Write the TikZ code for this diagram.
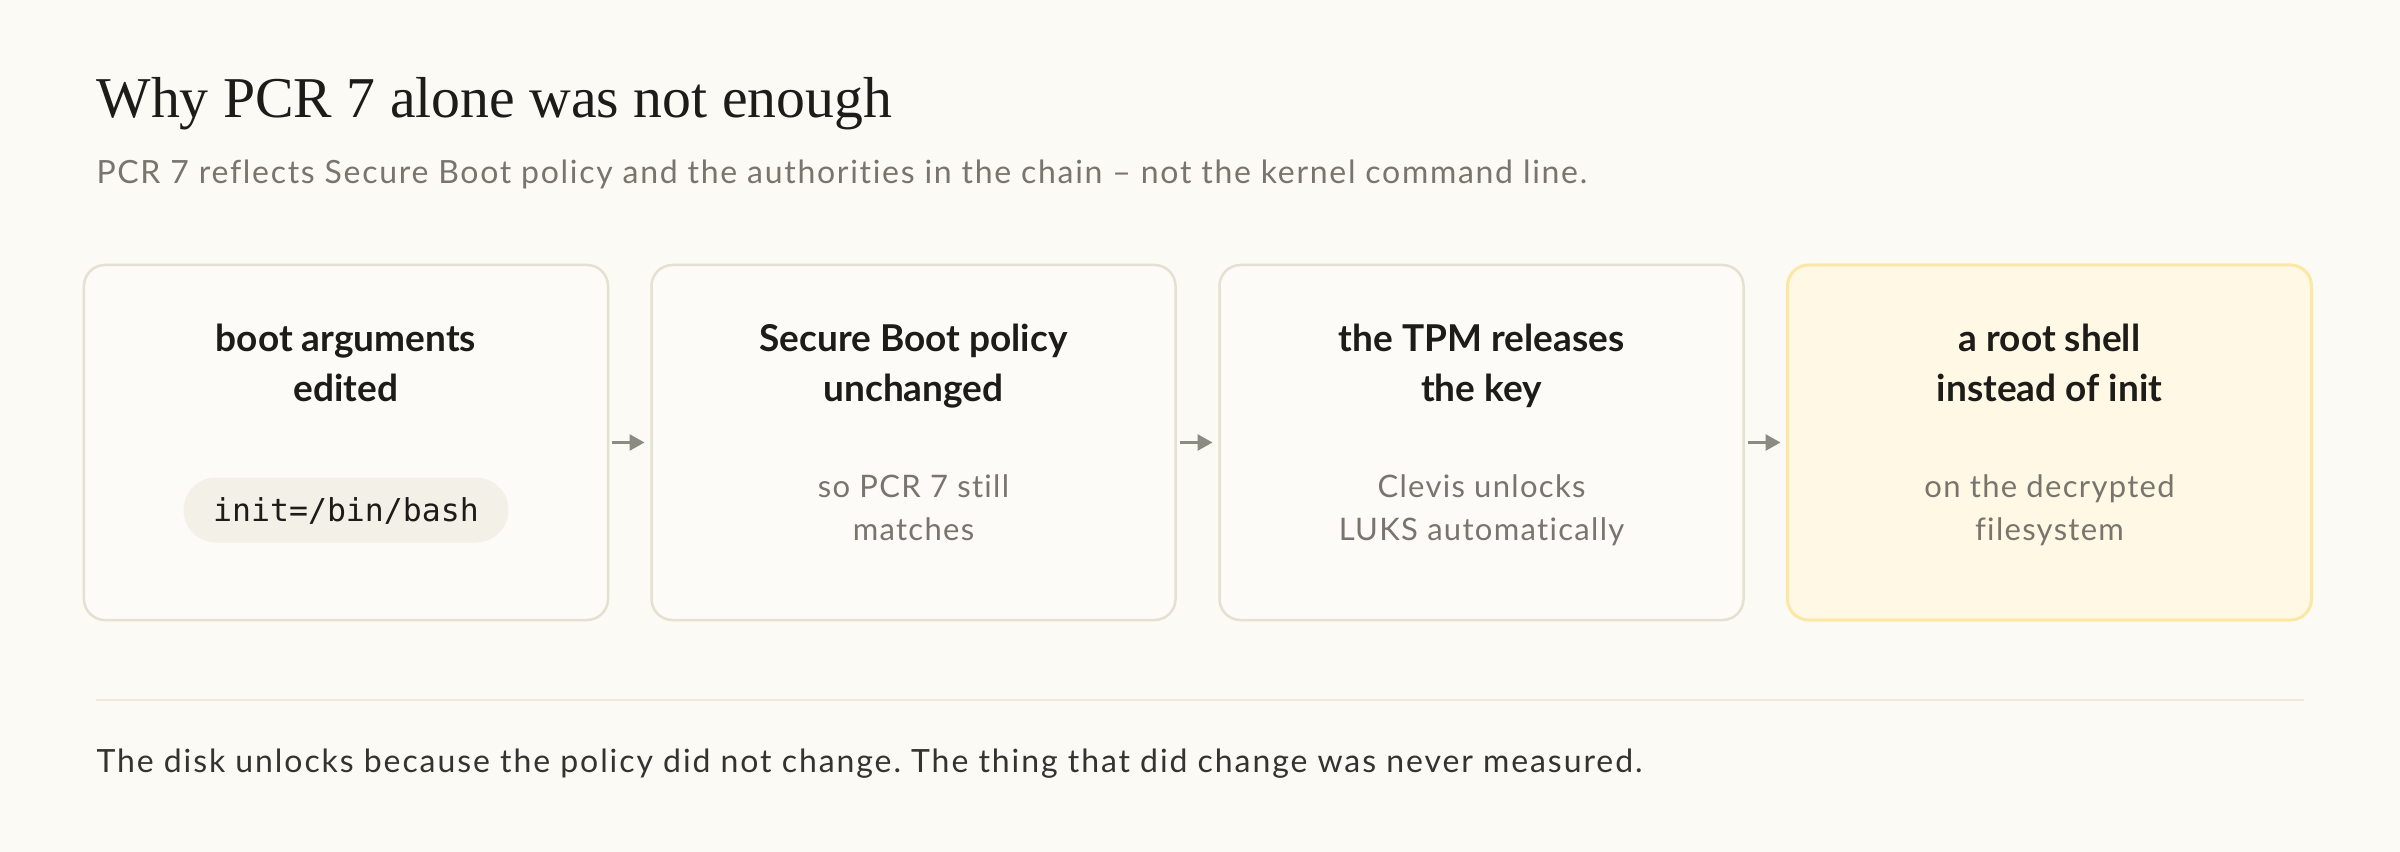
\documentclass[tikz,border=0pt]{standalone}
\usepackage{fontspec}
\setmainfont{Lato}
\newfontfamily\titlefont{Liberation Serif}
\newfontfamily\codefont{DejaVu Sans Mono}
\usetikzlibrary{arrows.meta}
\frenchspacing
\definecolor{bg}{HTML}{FBFAF5}
\definecolor{cardfill}{HTML}{FCFBF7}
\definecolor{cardline}{HTML}{E3E1CF}
\definecolor{hotfill}{HTML}{FFF8E5}
\definecolor{hotline}{HTML}{FBE8A4}
\definecolor{pillfill}{HTML}{F2F0E7}
\definecolor{ink}{HTML}{1D1C19}
\definecolor{muted}{HTML}{77756D}
\definecolor{arrowgray}{HTML}{8B8B84}
\definecolor{rulecol}{HTML}{EBE9DA}
\tikzset{
  card/.style={draw=cardline, fill=cardfill, line width=1pt, rounded corners=8.4pt,
    minimum width=209.6pt, minimum height=142pt, inner sep=0pt, outer sep=0pt},
  hotcard/.style={card, draw=hotline, fill=hotfill, line width=1.2pt},
  pill/.style={fill=pillfill, rounded corners=13pt, minimum width=130pt, minimum height=26pt, inner sep=0pt},
  head/.style={anchor=base, inner sep=0pt, text=ink, font=\bfseries\fontsize{14.8pt}{18pt}\selectfont},
  sub/.style={anchor=base, inner sep=0pt, text=muted, font=\fontsize{12.4pt}{15pt}\selectfont\addfontfeature{LetterSpace=4.2,Ligatures=NoCommon}},
  code/.style={anchor=base, inner sep=0pt, text=ink, font=\codefont\fontsize{12.6pt}{15pt}\selectfont},
  arr/.style={draw=arrowgray, line width=1.1pt, -{Triangle[length=6pt,width=6.4pt]},
    shorten <=1.6pt, shorten >=2.8pt},
}
\begin{document}
\begin{tikzpicture}[x=0.4pt,y=-0.4pt]
\fill[bg] (0,0) rectangle (2400,852);
\useasboundingbox (0,0) rectangle (2400,852);

\node[anchor=base west, inner sep=0pt, text=ink, font=\titlefont\fontsize{23.1pt}{28pt}\selectfont] (title) at (96,118) {Why PCR 7 alone was not enough};
\node[anchor=base west, inner sep=0pt, text=muted, font=\fontsize{12.8pt}{15pt}\selectfont\addfontfeature{LetterSpace=5.3,Ligatures=NoCommon}] (subtitle) at (96,184) {PCR 7 reflects Secure Boot policy and the authorities in the chain – not the kernel command line.};

\node[card] (b1) at (346,442.5) {};
\node[card] (b2) at (913.5,442.5) {};
\node[card] (b3) at (1481.5,442.5) {};
\node[hotcard] (b4) at (2049.5,442.5) {};

\node[head] (h1a) at (346,352) {boot arguments};
\node[head] (h1b) at (346,402) {edited};
\node[pill] (p1) at (346,510) {};
\node[code] (c1) at (346,521) {init=/bin/bash};

\node[head] (h2a) at (913.5,352) {Secure Boot policy};
\node[head] (h2b) at (913.5,402) {unchanged};
\node[sub] (s2a) at (913.5,497) {so PCR 7 still};
\node[sub] (s2b) at (913.5,540) {matches};

\node[head] (h3a) at (1481.5,352) {the TPM releases};
\node[head] (h3b) at (1481.5,402) {the key};
\node[sub] (s3a) at (1481.5,497) {Clevis unlocks};
\node[sub] (s3b) at (1481.5,540) {LUKS automatically};

\node[head] (h4a) at (2049.5,352) {a root shell};
\node[head] (h4b) at (2049.5,402) {instead of init};
\node[sub] (s4a) at (2049.5,497) {on the decrypted};
\node[sub] (s4b) at (2049.5,540) {filesystem};

\draw[arr] (b1.east) -- (b2.west);
\draw[arr] (b2.east) -- (b3.west);
\draw[arr] (b3.east) -- (b4.west);

\draw[rulecol, line width=0.8pt] (96,700) -- (2304,700);

\node[anchor=base west, inner sep=0pt, text=ink!90, font=\fontsize{12.8pt}{15pt}\selectfont\addfontfeature{LetterSpace=6.0,Ligatures=NoCommon}] (footer) at (96,772) {The disk unlocks because the policy did not change. The thing that did change was never measured.};
\end{tikzpicture}
\end{document}
